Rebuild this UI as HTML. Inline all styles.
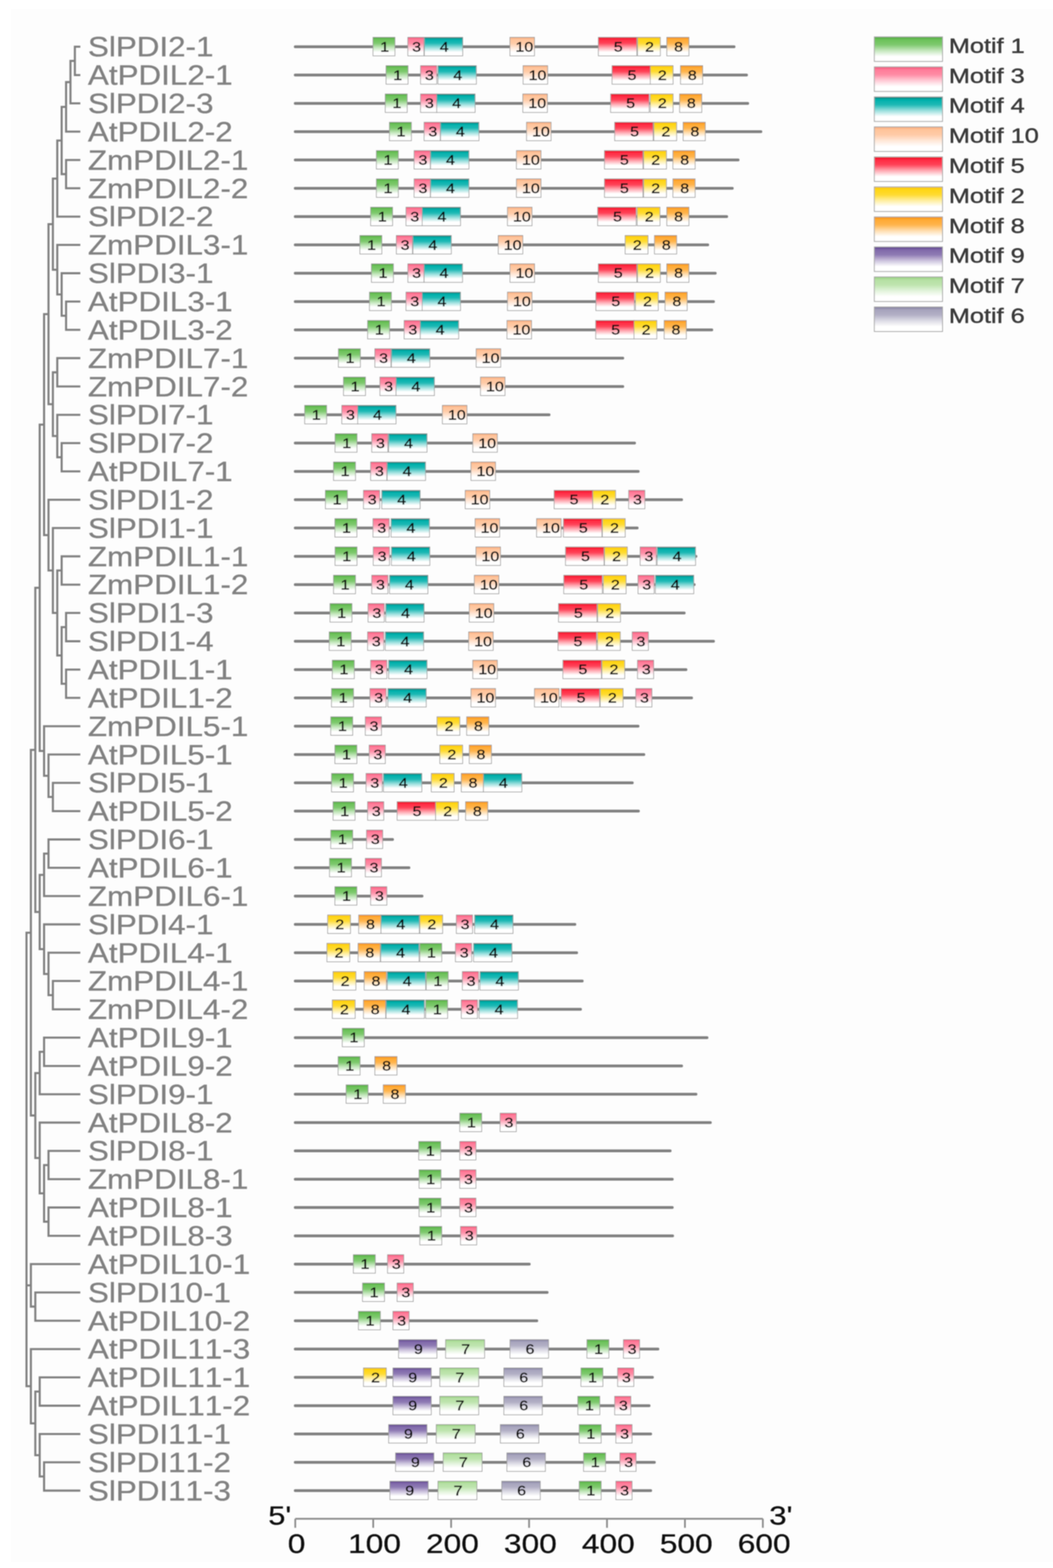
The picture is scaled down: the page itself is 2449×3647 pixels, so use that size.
<!DOCTYPE html>
<html><head><meta charset="utf-8"><title>Motif structure</title>
<style>
html,body{margin:0;padding:0;background:#fefefe;}
svg{display:block;}
text{font-kerning:none;}
.lb{font-family:"Liberation Sans",Arial,sans-serif;fill:#818181;stroke:#818181;stroke-width:0.6px;}
.bx{font-family:"Liberation Sans",Arial,sans-serif;fill:#111;stroke:#111;stroke-width:0.8px;}
.lg{font-family:"Liberation Sans",Arial,sans-serif;fill:#3a3a3a;stroke:#3a3a3a;stroke-width:0.9px;}
.ax{font-family:"Liberation Sans",Arial,sans-serif;fill:#0a0a0a;stroke:#0a0a0a;stroke-width:0.5px;}
</style></head><body>
<svg width="2449" height="3647" viewBox="0 0 2449 3647">
<defs>
<filter id="soft" x="-1%" y="-1%" width="102%" height="102%"><feGaussianBlur stdDeviation="0.8"/></filter>
<linearGradient id="g1" x1="0" y1="0" x2="0" y2="1"><stop offset="0" stop-color="#52a83e"/><stop offset="0.12" stop-color="#6cc25a"/><stop offset="0.32" stop-color="#7ec96e"/><stop offset="0.56" stop-color="#c4e7bd"/><stop offset="0.8" stop-color="#ffffff"/><stop offset="1" stop-color="#ffffff"/></linearGradient>
<linearGradient id="g3" x1="0" y1="0" x2="0" y2="1"><stop offset="0" stop-color="#f2557a"/><stop offset="0.12" stop-color="#ff7c99"/><stop offset="0.32" stop-color="#ff8ca5"/><stop offset="0.56" stop-color="#ffcbd6"/><stop offset="0.8" stop-color="#ffffff"/><stop offset="1" stop-color="#ffffff"/></linearGradient>
<linearGradient id="g4" x1="0" y1="0" x2="0" y2="1"><stop offset="0" stop-color="#007c77"/><stop offset="0.12" stop-color="#00b0ab"/><stop offset="0.32" stop-color="#1fb9b5"/><stop offset="0.56" stop-color="#99dfdd"/><stop offset="0.8" stop-color="#ffffff"/><stop offset="1" stop-color="#ffffff"/></linearGradient>
<linearGradient id="g10" x1="0" y1="0" x2="0" y2="1"><stop offset="0" stop-color="#f8aa7a"/><stop offset="0.12" stop-color="#ffc49b"/><stop offset="0.32" stop-color="#ffcba7"/><stop offset="0.56" stop-color="#ffe7d7"/><stop offset="0.8" stop-color="#ffffff"/><stop offset="1" stop-color="#ffffff"/></linearGradient>
<linearGradient id="g5" x1="0" y1="0" x2="0" y2="1"><stop offset="0" stop-color="#e5081f"/><stop offset="0.12" stop-color="#ff2a42"/><stop offset="0.32" stop-color="#ff4459"/><stop offset="0.56" stop-color="#ffaab3"/><stop offset="0.8" stop-color="#ffffff"/><stop offset="1" stop-color="#ffffff"/></linearGradient>
<linearGradient id="g2" x1="0" y1="0" x2="0" y2="1"><stop offset="0" stop-color="#f6c200"/><stop offset="0.12" stop-color="#ffd616"/><stop offset="0.32" stop-color="#ffdb32"/><stop offset="0.56" stop-color="#ffefa2"/><stop offset="0.8" stop-color="#ffffff"/><stop offset="1" stop-color="#ffffff"/></linearGradient>
<linearGradient id="g8" x1="0" y1="0" x2="0" y2="1"><stop offset="0" stop-color="#f39010"/><stop offset="0.12" stop-color="#ffaa34"/><stop offset="0.32" stop-color="#ffb44c"/><stop offset="0.56" stop-color="#ffddae"/><stop offset="0.8" stop-color="#ffffff"/><stop offset="1" stop-color="#ffffff"/></linearGradient>
<linearGradient id="g9" x1="0" y1="0" x2="0" y2="1"><stop offset="0" stop-color="#5c4189"/><stop offset="0.12" stop-color="#8069aa"/><stop offset="0.32" stop-color="#8f7bb4"/><stop offset="0.56" stop-color="#ccc3dd"/><stop offset="0.8" stop-color="#ffffff"/><stop offset="1" stop-color="#ffffff"/></linearGradient>
<linearGradient id="g7" x1="0" y1="0" x2="0" y2="1"><stop offset="0" stop-color="#95cf7c"/><stop offset="0.12" stop-color="#b5e0a3"/><stop offset="0.32" stop-color="#bee4ae"/><stop offset="0.56" stop-color="#e1f3da"/><stop offset="0.8" stop-color="#ffffff"/><stop offset="1" stop-color="#ffffff"/></linearGradient>
<linearGradient id="g6" x1="0" y1="0" x2="0" y2="1"><stop offset="0" stop-color="#827e9e"/><stop offset="0.12" stop-color="#a7a4bd"/><stop offset="0.32" stop-color="#b2afc5"/><stop offset="0.56" stop-color="#dcdbe5"/><stop offset="0.8" stop-color="#ffffff"/><stop offset="1" stop-color="#ffffff"/></linearGradient>
</defs>
<rect x="0" y="0" width="2449" height="3647" fill="#ffffff"/>
<rect x="26" y="21" width="2423" height="3612" fill="#fdfdfd"/>
<g filter="url(#soft)">
<path d="M174.1 108.7L184.4 108.7M174.1 174.6L184.4 174.6M174.1 108.7L174.1 174.6M163.9 141.6L174.1 141.6M163.9 240.4L184.4 240.4M163.9 141.6L163.9 240.4M153.7 191.0L163.9 191.0M153.7 306.2L184.4 306.2M153.7 191.0L153.7 306.2M143.4 248.6L153.7 248.6M153.7 372.1L184.4 372.1M153.7 437.9L184.4 437.9M153.7 372.1L153.7 437.9M143.4 405.0L153.7 405.0M143.4 248.6L143.4 405.0M133.2 326.8L143.4 326.8M133.2 503.8L184.4 503.8M133.2 326.8L133.2 503.8M123.0 415.3L133.2 415.3M133.2 569.6L184.4 569.6M143.4 635.5L184.4 635.5M153.7 701.4L184.4 701.4M153.7 767.2L184.4 767.2M153.7 701.4L153.7 767.2M143.4 734.3L153.7 734.3M143.4 635.5L143.4 734.3M133.2 684.9L143.4 684.9M133.2 569.6L133.2 684.9M123.0 627.3L133.2 627.3M123.0 415.3L123.0 627.3M112.8 521.3L123.0 521.3M133.2 833.0L184.4 833.0M133.2 898.9L184.4 898.9M133.2 833.0L133.2 898.9M123.0 866.0L133.2 866.0M133.2 964.8L184.4 964.8M143.4 1030.6L184.4 1030.6M143.4 1096.4L184.4 1096.4M143.4 1030.6L143.4 1096.4M133.2 1063.5L143.4 1063.5M133.2 964.8L133.2 1063.5M123.0 1014.1L133.2 1014.1M123.0 866.0L123.0 1014.1M112.8 940.1L123.0 940.1M112.8 521.3L112.8 940.1M102.5 730.7L112.8 730.7M112.8 1162.3L184.4 1162.3M123.0 1228.1L184.4 1228.1M143.4 1294.0L184.4 1294.0M143.4 1359.8L184.4 1359.8M143.4 1294.0L143.4 1359.8M133.2 1326.9L143.4 1326.9M153.7 1425.7L184.4 1425.7M153.7 1491.5L184.4 1491.5M153.7 1425.7L153.7 1491.5M143.4 1458.6L153.7 1458.6M153.7 1557.4L184.4 1557.4M153.7 1623.2L184.4 1623.2M153.7 1557.4L153.7 1623.2M143.4 1590.3L153.7 1590.3M143.4 1458.6L143.4 1590.3M133.2 1524.5L143.4 1524.5M133.2 1326.9L133.2 1524.5M123.0 1425.7L133.2 1425.7M123.0 1228.1L123.0 1425.7M112.8 1326.9L123.0 1326.9M112.8 1162.3L112.8 1326.9M102.5 1244.6L112.8 1244.6M102.5 730.7L102.5 1244.6M92.3 987.6L102.5 987.6M102.5 1689.1L184.4 1689.1M112.8 1754.9L184.4 1754.9M123.0 1820.8L184.4 1820.8M123.0 1886.6L184.4 1886.6M123.0 1820.8L123.0 1886.6M112.8 1853.7L123.0 1853.7M112.8 1754.9L112.8 1853.7M102.5 1804.3L112.8 1804.3M102.5 1689.1L102.5 1804.3M92.3 1746.7L102.5 1746.7M92.3 987.6L92.3 1746.7M82.1 1367.2L92.3 1367.2M112.8 1952.5L184.4 1952.5M112.8 2018.3L184.4 2018.3M112.8 1952.5L112.8 2018.3M102.5 1985.4L112.8 1985.4M102.5 2084.2L184.4 2084.2M102.5 1985.4L102.5 2084.2M92.3 2034.8L102.5 2034.8M102.5 2150.0L184.4 2150.0M112.8 2215.9L184.4 2215.9M123.0 2281.7L184.4 2281.7M123.0 2347.6L184.4 2347.6M123.0 2281.7L123.0 2347.6M112.8 2314.7L123.0 2314.7M112.8 2215.9L112.8 2314.7M102.5 2265.3L112.8 2265.3M102.5 2150.0L102.5 2265.3M92.3 2207.7L102.5 2207.7M92.3 2034.8L92.3 2207.7M82.1 2121.2L92.3 2121.2M82.1 1367.2L82.1 2121.2M71.8 1744.2L82.1 1744.2M102.5 2413.4L184.4 2413.4M102.5 2479.3L184.4 2479.3M102.5 2413.4L102.5 2479.3M92.3 2446.4L102.5 2446.4M92.3 2545.1L184.4 2545.1M92.3 2446.4L92.3 2545.1M82.1 2495.8L92.3 2495.8M92.3 2611.0L184.4 2611.0M112.8 2676.8L184.4 2676.8M112.8 2742.7L184.4 2742.7M112.8 2676.8L112.8 2742.7M102.5 2709.8L112.8 2709.8M112.8 2808.5L184.4 2808.5M112.8 2874.4L184.4 2874.4M112.8 2808.5L112.8 2874.4M102.5 2841.5L112.8 2841.5M102.5 2709.8L102.5 2841.5M92.3 2775.6L102.5 2775.6M92.3 2611.0L92.3 2775.6M82.1 2693.3L92.3 2693.3M82.1 2495.8L82.1 2693.3M71.8 2594.5L82.1 2594.5M71.8 1744.2L71.8 2594.5M61.6 2169.4L71.8 2169.4M71.8 2940.2L184.4 2940.2M82.1 3006.1L184.4 3006.1M82.1 3071.9L184.4 3071.9M82.1 3006.1L82.1 3071.9M71.8 3039.0L82.1 3039.0M71.8 2940.2L71.8 3039.0M61.6 2989.6L71.8 2989.6M71.8 3137.8L184.4 3137.8M92.3 3203.6L184.4 3203.6M92.3 3269.5L184.4 3269.5M92.3 3203.6L92.3 3269.5M82.1 3236.6L92.3 3236.6M92.3 3335.3L184.4 3335.3M102.5 3401.2L184.4 3401.2M102.5 3467.0L184.4 3467.0M102.5 3401.2L102.5 3467.0M92.3 3434.1L102.5 3434.1M92.3 3335.3L92.3 3434.1M82.1 3384.7L92.3 3384.7M82.1 3236.6L82.1 3384.7M71.8 3310.7L82.1 3310.7M71.8 3137.8L71.8 3310.7M61.6 3224.2L71.8 3224.2M61.6 2169.4L61.6 3224.2" stroke="#808080" stroke-width="4.8" stroke-linecap="square" fill="none"/>
<text class="lb" font-size="64.6" transform="translate(204.5,131.3) scale(1.13,1)">SlPDI2-1</text>
<text class="lb" font-size="64.6" transform="translate(204.5,197.2) scale(1.13,1)">AtPDIL2-1</text>
<text class="lb" font-size="64.6" transform="translate(204.5,263.0) scale(1.13,1)">SlPDI2-3</text>
<text class="lb" font-size="64.6" transform="translate(204.5,328.9) scale(1.13,1)">AtPDIL2-2</text>
<text class="lb" font-size="64.6" transform="translate(204.5,394.7) scale(1.13,1)">ZmPDIL2-1</text>
<text class="lb" font-size="64.6" transform="translate(204.5,460.6) scale(1.13,1)">ZmPDIL2-2</text>
<text class="lb" font-size="64.6" transform="translate(204.5,526.4) scale(1.13,1)">SlPDI2-2</text>
<text class="lb" font-size="64.6" transform="translate(204.5,592.2) scale(1.13,1)">ZmPDIL3-1</text>
<text class="lb" font-size="64.6" transform="translate(204.5,658.1) scale(1.13,1)">SlPDI3-1</text>
<text class="lb" font-size="64.6" transform="translate(204.5,724.0) scale(1.13,1)">AtPDIL3-1</text>
<text class="lb" font-size="64.6" transform="translate(204.5,789.8) scale(1.13,1)">AtPDIL3-2</text>
<text class="lb" font-size="64.6" transform="translate(204.5,855.6) scale(1.13,1)">ZmPDIL7-1</text>
<text class="lb" font-size="64.6" transform="translate(204.5,921.5) scale(1.13,1)">ZmPDIL7-2</text>
<text class="lb" font-size="64.6" transform="translate(204.5,987.4) scale(1.13,1)">SlPDI7-1</text>
<text class="lb" font-size="64.6" transform="translate(204.5,1053.2) scale(1.13,1)">SlPDI7-2</text>
<text class="lb" font-size="64.6" transform="translate(204.5,1119.0) scale(1.13,1)">AtPDIL7-1</text>
<text class="lb" font-size="64.6" transform="translate(204.5,1184.9) scale(1.13,1)">SlPDI1-2</text>
<text class="lb" font-size="64.6" transform="translate(204.5,1250.7) scale(1.13,1)">SlPDI1-1</text>
<text class="lb" font-size="64.6" transform="translate(204.5,1316.6) scale(1.13,1)">ZmPDIL1-1</text>
<text class="lb" font-size="64.6" transform="translate(204.5,1382.4) scale(1.13,1)">ZmPDIL1-2</text>
<text class="lb" font-size="64.6" transform="translate(204.5,1448.3) scale(1.13,1)">SlPDI1-3</text>
<text class="lb" font-size="64.6" transform="translate(204.5,1514.1) scale(1.13,1)">SlPDI1-4</text>
<text class="lb" font-size="64.6" transform="translate(204.5,1580.0) scale(1.13,1)">AtPDIL1-1</text>
<text class="lb" font-size="64.6" transform="translate(204.5,1645.8) scale(1.13,1)">AtPDIL1-2</text>
<text class="lb" font-size="64.6" transform="translate(204.5,1711.7) scale(1.13,1)">ZmPDIL5-1</text>
<text class="lb" font-size="64.6" transform="translate(204.5,1777.5) scale(1.13,1)">AtPDIL5-1</text>
<text class="lb" font-size="64.6" transform="translate(204.5,1843.4) scale(1.13,1)">SlPDI5-1</text>
<text class="lb" font-size="64.6" transform="translate(204.5,1909.2) scale(1.13,1)">AtPDIL5-2</text>
<text class="lb" font-size="64.6" transform="translate(204.5,1975.1) scale(1.13,1)">SlPDI6-1</text>
<text class="lb" font-size="64.6" transform="translate(204.5,2040.9) scale(1.13,1)">AtPDIL6-1</text>
<text class="lb" font-size="64.6" transform="translate(204.5,2106.8) scale(1.13,1)">ZmPDIL6-1</text>
<text class="lb" font-size="64.6" transform="translate(204.5,2172.6) scale(1.13,1)">SlPDI4-1</text>
<text class="lb" font-size="64.6" transform="translate(204.5,2238.5) scale(1.13,1)">AtPDIL4-1</text>
<text class="lb" font-size="64.6" transform="translate(204.5,2304.3) scale(1.13,1)">ZmPDIL4-1</text>
<text class="lb" font-size="64.6" transform="translate(204.5,2370.2) scale(1.13,1)">ZmPDIL4-2</text>
<text class="lb" font-size="64.6" transform="translate(204.5,2436.0) scale(1.13,1)">AtPDIL9-1</text>
<text class="lb" font-size="64.6" transform="translate(204.5,2501.9) scale(1.13,1)">AtPDIL9-2</text>
<text class="lb" font-size="64.6" transform="translate(204.5,2567.7) scale(1.13,1)">SlPDI9-1</text>
<text class="lb" font-size="64.6" transform="translate(204.5,2633.6) scale(1.13,1)">AtPDIL8-2</text>
<text class="lb" font-size="64.6" transform="translate(204.5,2699.4) scale(1.13,1)">SlPDI8-1</text>
<text class="lb" font-size="64.6" transform="translate(204.5,2765.3) scale(1.13,1)">ZmPDIL8-1</text>
<text class="lb" font-size="64.6" transform="translate(204.5,2831.1) scale(1.13,1)">AtPDIL8-1</text>
<text class="lb" font-size="64.6" transform="translate(204.5,2897.0) scale(1.13,1)">AtPDIL8-3</text>
<text class="lb" font-size="64.6" transform="translate(204.5,2962.8) scale(1.13,1)">AtPDIL10-1</text>
<text class="lb" font-size="64.6" transform="translate(204.5,3028.7) scale(1.13,1)">SlPDI10-1</text>
<text class="lb" font-size="64.6" transform="translate(204.5,3094.5) scale(1.13,1)">AtPDIL10-2</text>
<text class="lb" font-size="64.6" transform="translate(204.5,3160.4) scale(1.13,1)">AtPDIL11-3</text>
<text class="lb" font-size="64.6" transform="translate(204.5,3226.2) scale(1.13,1)">AtPDIL11-1</text>
<text class="lb" font-size="64.6" transform="translate(204.5,3292.1) scale(1.13,1)">AtPDIL11-2</text>
<text class="lb" font-size="64.6" transform="translate(204.5,3357.9) scale(1.13,1)">SlPDI11-1</text>
<text class="lb" font-size="64.6" transform="translate(204.5,3423.8) scale(1.13,1)">SlPDI11-2</text>
<text class="lb" font-size="64.6" transform="translate(204.5,3489.6) scale(1.13,1)">SlPDI11-3</text>
<path d="M686.7 108.7H1707.2M686.7 174.6H1736.2M686.7 240.4H1739.0M686.7 306.2H1769.6M686.7 372.1H1716.6M686.7 437.9H1703.1M686.7 503.8H1690.1M686.7 569.6H1646.0M686.7 635.5H1663.5M686.7 701.4H1659.4M686.7 767.2H1655.4M686.7 833.0H1448.4M686.7 898.9H1448.4M686.7 964.8H1277.0M686.7 1030.6H1475.8M686.7 1096.4H1484.3M686.7 1162.3H1585.2M686.7 1228.1H1481.9M686.7 1294.0H1618.6M686.7 1359.8H1614.5M686.7 1425.7H1591.3M686.7 1491.5H1659.4M686.7 1557.4H1595.4M686.7 1623.2H1608.4M686.7 1689.1H1483.9M686.7 1754.9H1497.4M686.7 1820.8H1470.5M686.7 1886.6H1484.8M686.7 1952.5H912.9M686.7 2018.3H951.1M686.7 2084.2H981.5M686.7 2150.0H1337.0M686.7 2215.9H1341.1M686.7 2281.7H1354.1M686.7 2347.6H1350.1M686.7 2413.4H1644.3M686.7 2479.3H1585.2M686.7 2545.1H1618.6M686.7 2611.0H1652.1M686.7 2676.8H1558.6M686.7 2742.7H1563.5M686.7 2808.5H1563.5M686.7 2874.4H1564.3M686.7 2940.2H1230.9M686.7 3006.1H1272.5M686.7 3071.9H1248.4M686.7 3137.8H1530.1M686.7 3203.6H1517.4M686.7 3269.5H1509.6M686.7 3335.3H1513.3M686.7 3401.2H1521.9M686.7 3467.0H1513.3" stroke="#808080" stroke-width="6.5" stroke-linecap="round" fill="none"/>
<rect x="867.5" y="86.9" width="51" height="42.9" fill="url(#g1)" stroke="#9c9c9c" stroke-width="1.6"/><text class="bx" font-size="31" text-anchor="middle" transform="translate(894.5,119.7) scale(1.2,1)">1</text>
<rect x="948.5" y="86.9" width="37.5" height="42.9" fill="url(#g3)" stroke="#9c9c9c" stroke-width="1.6"/><text class="bx" font-size="31" text-anchor="middle" transform="translate(968.8,119.7) scale(1.2,1)">3</text>
<rect x="987.0" y="86.9" width="89.2" height="42.9" fill="url(#g4)" stroke="#9c9c9c" stroke-width="1.6"/><text class="bx" font-size="31" text-anchor="middle" transform="translate(1033.1,119.7) scale(1.2,1)">4</text>
<rect x="1186.0" y="86.9" width="57" height="42.9" fill="url(#g10)" stroke="#9c9c9c" stroke-width="1.6"/><text class="bx" font-size="31" text-anchor="middle" transform="translate(1219.5,119.7) scale(1.2,1)">10</text>
<rect x="1391.6" y="86.9" width="89.5" height="42.9" fill="url(#g5)" stroke="#9c9c9c" stroke-width="1.6"/><text class="bx" font-size="31" text-anchor="middle" transform="translate(1437.8,119.7) scale(1.2,1)">5</text>
<rect x="1482.7" y="86.9" width="53" height="42.9" fill="url(#g2)" stroke="#9c9c9c" stroke-width="1.6"/><text class="bx" font-size="31" text-anchor="middle" transform="translate(1510.7,119.7) scale(1.2,1)">2</text>
<rect x="1550.8" y="86.9" width="51.5" height="42.9" fill="url(#g8)" stroke="#9c9c9c" stroke-width="1.6"/><text class="bx" font-size="31" text-anchor="middle" transform="translate(1578.0,119.7) scale(1.2,1)">8</text>
<rect x="897.9" y="152.8" width="51" height="42.9" fill="url(#g1)" stroke="#9c9c9c" stroke-width="1.6"/><text class="bx" font-size="31" text-anchor="middle" transform="translate(924.9,185.5) scale(1.2,1)">1</text>
<rect x="978.2" y="152.8" width="37.5" height="42.9" fill="url(#g3)" stroke="#9c9c9c" stroke-width="1.6"/><text class="bx" font-size="31" text-anchor="middle" transform="translate(998.5,185.5) scale(1.2,1)">3</text>
<rect x="1018.6" y="152.8" width="89.2" height="42.9" fill="url(#g4)" stroke="#9c9c9c" stroke-width="1.6"/><text class="bx" font-size="31" text-anchor="middle" transform="translate(1064.7,185.5) scale(1.2,1)">4</text>
<rect x="1216.6" y="152.8" width="57" height="42.9" fill="url(#g10)" stroke="#9c9c9c" stroke-width="1.6"/><text class="bx" font-size="31" text-anchor="middle" transform="translate(1250.1,185.5) scale(1.2,1)">10</text>
<rect x="1423.5" y="152.8" width="89.5" height="42.9" fill="url(#g5)" stroke="#9c9c9c" stroke-width="1.6"/><text class="bx" font-size="31" text-anchor="middle" transform="translate(1469.8,185.5) scale(1.2,1)">5</text>
<rect x="1512.4" y="152.8" width="53" height="42.9" fill="url(#g2)" stroke="#9c9c9c" stroke-width="1.6"/><text class="bx" font-size="31" text-anchor="middle" transform="translate(1540.4,185.5) scale(1.2,1)">2</text>
<rect x="1582.7" y="152.8" width="51.5" height="42.9" fill="url(#g8)" stroke="#9c9c9c" stroke-width="1.6"/><text class="bx" font-size="31" text-anchor="middle" transform="translate(1610.0,185.5) scale(1.2,1)">8</text>
<rect x="896.0" y="218.6" width="51" height="42.9" fill="url(#g1)" stroke="#9c9c9c" stroke-width="1.6"/><text class="bx" font-size="31" text-anchor="middle" transform="translate(923.0,251.3) scale(1.2,1)">1</text>
<rect x="978.2" y="218.6" width="37.5" height="42.9" fill="url(#g3)" stroke="#9c9c9c" stroke-width="1.6"/><text class="bx" font-size="31" text-anchor="middle" transform="translate(998.5,251.3) scale(1.2,1)">3</text>
<rect x="1015.7" y="218.6" width="89.2" height="42.9" fill="url(#g4)" stroke="#9c9c9c" stroke-width="1.6"/><text class="bx" font-size="31" text-anchor="middle" transform="translate(1061.8,251.3) scale(1.2,1)">4</text>
<rect x="1216.0" y="218.6" width="57" height="42.9" fill="url(#g10)" stroke="#9c9c9c" stroke-width="1.6"/><text class="bx" font-size="31" text-anchor="middle" transform="translate(1249.5,251.3) scale(1.2,1)">10</text>
<rect x="1420.2" y="218.6" width="89.5" height="42.9" fill="url(#g5)" stroke="#9c9c9c" stroke-width="1.6"/><text class="bx" font-size="31" text-anchor="middle" transform="translate(1466.5,251.3) scale(1.2,1)">5</text>
<rect x="1512.4" y="218.6" width="53" height="42.9" fill="url(#g2)" stroke="#9c9c9c" stroke-width="1.6"/><text class="bx" font-size="31" text-anchor="middle" transform="translate(1540.4,251.3) scale(1.2,1)">2</text>
<rect x="1580.6" y="218.6" width="51.5" height="42.9" fill="url(#g8)" stroke="#9c9c9c" stroke-width="1.6"/><text class="bx" font-size="31" text-anchor="middle" transform="translate(1607.8,251.3) scale(1.2,1)">8</text>
<rect x="905.7" y="284.4" width="51" height="42.9" fill="url(#g1)" stroke="#9c9c9c" stroke-width="1.6"/><text class="bx" font-size="31" text-anchor="middle" transform="translate(932.7,317.2) scale(1.2,1)">1</text>
<rect x="986.4" y="284.4" width="37.5" height="42.9" fill="url(#g3)" stroke="#9c9c9c" stroke-width="1.6"/><text class="bx" font-size="31" text-anchor="middle" transform="translate(1006.6,317.2) scale(1.2,1)">3</text>
<rect x="1024.6" y="284.4" width="89.2" height="42.9" fill="url(#g4)" stroke="#9c9c9c" stroke-width="1.6"/><text class="bx" font-size="31" text-anchor="middle" transform="translate(1070.7,317.2) scale(1.2,1)">4</text>
<rect x="1224.6" y="284.4" width="57" height="42.9" fill="url(#g10)" stroke="#9c9c9c" stroke-width="1.6"/><text class="bx" font-size="31" text-anchor="middle" transform="translate(1258.1,317.2) scale(1.2,1)">10</text>
<rect x="1429.6" y="284.4" width="89.5" height="42.9" fill="url(#g5)" stroke="#9c9c9c" stroke-width="1.6"/><text class="bx" font-size="31" text-anchor="middle" transform="translate(1475.8,317.2) scale(1.2,1)">5</text>
<rect x="1520.6" y="284.4" width="53" height="42.9" fill="url(#g2)" stroke="#9c9c9c" stroke-width="1.6"/><text class="bx" font-size="31" text-anchor="middle" transform="translate(1548.6,317.2) scale(1.2,1)">2</text>
<rect x="1588.8" y="284.4" width="51.5" height="42.9" fill="url(#g8)" stroke="#9c9c9c" stroke-width="1.6"/><text class="bx" font-size="31" text-anchor="middle" transform="translate(1616.0,317.2) scale(1.2,1)">8</text>
<rect x="875.4" y="350.3" width="51" height="42.9" fill="url(#g1)" stroke="#9c9c9c" stroke-width="1.6"/><text class="bx" font-size="31" text-anchor="middle" transform="translate(902.4,383.0) scale(1.2,1)">1</text>
<rect x="963.2" y="350.3" width="37.5" height="42.9" fill="url(#g3)" stroke="#9c9c9c" stroke-width="1.6"/><text class="bx" font-size="31" text-anchor="middle" transform="translate(983.5,383.0) scale(1.2,1)">3</text>
<rect x="1001.4" y="350.3" width="89.2" height="42.9" fill="url(#g4)" stroke="#9c9c9c" stroke-width="1.6"/><text class="bx" font-size="31" text-anchor="middle" transform="translate(1047.5,383.0) scale(1.2,1)">4</text>
<rect x="1201.2" y="350.3" width="57" height="42.9" fill="url(#g10)" stroke="#9c9c9c" stroke-width="1.6"/><text class="bx" font-size="31" text-anchor="middle" transform="translate(1234.7,383.0) scale(1.2,1)">10</text>
<rect x="1405.9" y="350.3" width="89.5" height="42.9" fill="url(#g5)" stroke="#9c9c9c" stroke-width="1.6"/><text class="bx" font-size="31" text-anchor="middle" transform="translate(1452.2,383.0) scale(1.2,1)">5</text>
<rect x="1496.9" y="350.3" width="53" height="42.9" fill="url(#g2)" stroke="#9c9c9c" stroke-width="1.6"/><text class="bx" font-size="31" text-anchor="middle" transform="translate(1524.9,383.0) scale(1.2,1)">2</text>
<rect x="1565.1" y="350.3" width="51.5" height="42.9" fill="url(#g8)" stroke="#9c9c9c" stroke-width="1.6"/><text class="bx" font-size="31" text-anchor="middle" transform="translate(1592.3,383.0) scale(1.2,1)">8</text>
<rect x="875.4" y="416.1" width="51" height="42.9" fill="url(#g1)" stroke="#9c9c9c" stroke-width="1.6"/><text class="bx" font-size="31" text-anchor="middle" transform="translate(902.4,448.9) scale(1.2,1)">1</text>
<rect x="963.2" y="416.1" width="37.5" height="42.9" fill="url(#g3)" stroke="#9c9c9c" stroke-width="1.6"/><text class="bx" font-size="31" text-anchor="middle" transform="translate(983.5,448.9) scale(1.2,1)">3</text>
<rect x="1001.4" y="416.1" width="89.2" height="42.9" fill="url(#g4)" stroke="#9c9c9c" stroke-width="1.6"/><text class="bx" font-size="31" text-anchor="middle" transform="translate(1047.5,448.9) scale(1.2,1)">4</text>
<rect x="1201.2" y="416.1" width="57" height="42.9" fill="url(#g10)" stroke="#9c9c9c" stroke-width="1.6"/><text class="bx" font-size="31" text-anchor="middle" transform="translate(1234.7,448.9) scale(1.2,1)">10</text>
<rect x="1405.9" y="416.1" width="89.5" height="42.9" fill="url(#g5)" stroke="#9c9c9c" stroke-width="1.6"/><text class="bx" font-size="31" text-anchor="middle" transform="translate(1452.2,448.9) scale(1.2,1)">5</text>
<rect x="1496.9" y="416.1" width="53" height="42.9" fill="url(#g2)" stroke="#9c9c9c" stroke-width="1.6"/><text class="bx" font-size="31" text-anchor="middle" transform="translate(1524.9,448.9) scale(1.2,1)">2</text>
<rect x="1565.1" y="416.1" width="51.5" height="42.9" fill="url(#g8)" stroke="#9c9c9c" stroke-width="1.6"/><text class="bx" font-size="31" text-anchor="middle" transform="translate(1592.3,448.9) scale(1.2,1)">8</text>
<rect x="862.0" y="482.0" width="51" height="42.9" fill="url(#g1)" stroke="#9c9c9c" stroke-width="1.6"/><text class="bx" font-size="31" text-anchor="middle" transform="translate(889.0,514.7) scale(1.2,1)">1</text>
<rect x="944.3" y="482.0" width="37.5" height="42.9" fill="url(#g3)" stroke="#9c9c9c" stroke-width="1.6"/><text class="bx" font-size="31" text-anchor="middle" transform="translate(964.5,514.7) scale(1.2,1)">3</text>
<rect x="981.8" y="482.0" width="89.2" height="42.9" fill="url(#g4)" stroke="#9c9c9c" stroke-width="1.6"/><text class="bx" font-size="31" text-anchor="middle" transform="translate(1027.9,514.7) scale(1.2,1)">4</text>
<rect x="1180.3" y="482.0" width="57" height="42.9" fill="url(#g10)" stroke="#9c9c9c" stroke-width="1.6"/><text class="bx" font-size="31" text-anchor="middle" transform="translate(1213.8,514.7) scale(1.2,1)">10</text>
<rect x="1390.0" y="482.0" width="89.5" height="42.9" fill="url(#g5)" stroke="#9c9c9c" stroke-width="1.6"/><text class="bx" font-size="31" text-anchor="middle" transform="translate(1436.2,514.7) scale(1.2,1)">5</text>
<rect x="1481.8" y="482.0" width="53" height="42.9" fill="url(#g2)" stroke="#9c9c9c" stroke-width="1.6"/><text class="bx" font-size="31" text-anchor="middle" transform="translate(1509.8,514.7) scale(1.2,1)">2</text>
<rect x="1550.8" y="482.0" width="51.5" height="42.9" fill="url(#g8)" stroke="#9c9c9c" stroke-width="1.6"/><text class="bx" font-size="31" text-anchor="middle" transform="translate(1578.0,514.7) scale(1.2,1)">8</text>
<rect x="837.0" y="547.8" width="51" height="42.9" fill="url(#g1)" stroke="#9c9c9c" stroke-width="1.6"/><text class="bx" font-size="31" text-anchor="middle" transform="translate(864.0,580.6) scale(1.2,1)">1</text>
<rect x="921.8" y="547.8" width="37.5" height="42.9" fill="url(#g3)" stroke="#9c9c9c" stroke-width="1.6"/><text class="bx" font-size="31" text-anchor="middle" transform="translate(942.0,580.6) scale(1.2,1)">3</text>
<rect x="960.4" y="547.8" width="89.2" height="42.9" fill="url(#g4)" stroke="#9c9c9c" stroke-width="1.6"/><text class="bx" font-size="31" text-anchor="middle" transform="translate(1006.5,580.6) scale(1.2,1)">4</text>
<rect x="1158.8" y="547.8" width="57" height="42.9" fill="url(#g10)" stroke="#9c9c9c" stroke-width="1.6"/><text class="bx" font-size="31" text-anchor="middle" transform="translate(1192.3,580.6) scale(1.2,1)">10</text>
<rect x="1454.0" y="547.8" width="53" height="42.9" fill="url(#g2)" stroke="#9c9c9c" stroke-width="1.6"/><text class="bx" font-size="31" text-anchor="middle" transform="translate(1482.0,580.6) scale(1.2,1)">2</text>
<rect x="1522.2" y="547.8" width="51.5" height="42.9" fill="url(#g8)" stroke="#9c9c9c" stroke-width="1.6"/><text class="bx" font-size="31" text-anchor="middle" transform="translate(1549.5,580.6) scale(1.2,1)">8</text>
<rect x="863.9" y="613.7" width="51" height="42.9" fill="url(#g1)" stroke="#9c9c9c" stroke-width="1.6"/><text class="bx" font-size="31" text-anchor="middle" transform="translate(890.9,646.4) scale(1.2,1)">1</text>
<rect x="948.6" y="613.7" width="37.5" height="42.9" fill="url(#g3)" stroke="#9c9c9c" stroke-width="1.6"/><text class="bx" font-size="31" text-anchor="middle" transform="translate(968.9,646.4) scale(1.2,1)">3</text>
<rect x="986.4" y="613.7" width="89.2" height="42.9" fill="url(#g4)" stroke="#9c9c9c" stroke-width="1.6"/><text class="bx" font-size="31" text-anchor="middle" transform="translate(1032.5,646.4) scale(1.2,1)">4</text>
<rect x="1186.2" y="613.7" width="57" height="42.9" fill="url(#g10)" stroke="#9c9c9c" stroke-width="1.6"/><text class="bx" font-size="31" text-anchor="middle" transform="translate(1219.7,646.4) scale(1.2,1)">10</text>
<rect x="1391.6" y="613.7" width="89.5" height="42.9" fill="url(#g5)" stroke="#9c9c9c" stroke-width="1.6"/><text class="bx" font-size="31" text-anchor="middle" transform="translate(1437.8,646.4) scale(1.2,1)">5</text>
<rect x="1482.7" y="613.7" width="53" height="42.9" fill="url(#g2)" stroke="#9c9c9c" stroke-width="1.6"/><text class="bx" font-size="31" text-anchor="middle" transform="translate(1510.7,646.4) scale(1.2,1)">2</text>
<rect x="1550.8" y="613.7" width="51.5" height="42.9" fill="url(#g8)" stroke="#9c9c9c" stroke-width="1.6"/><text class="bx" font-size="31" text-anchor="middle" transform="translate(1578.0,646.4) scale(1.2,1)">8</text>
<rect x="859.3" y="679.5" width="51" height="42.9" fill="url(#g1)" stroke="#9c9c9c" stroke-width="1.6"/><text class="bx" font-size="31" text-anchor="middle" transform="translate(886.3,712.3) scale(1.2,1)">1</text>
<rect x="944.3" y="679.5" width="37.5" height="42.9" fill="url(#g3)" stroke="#9c9c9c" stroke-width="1.6"/><text class="bx" font-size="31" text-anchor="middle" transform="translate(964.5,712.3) scale(1.2,1)">3</text>
<rect x="981.8" y="679.5" width="89.2" height="42.9" fill="url(#g4)" stroke="#9c9c9c" stroke-width="1.6"/><text class="bx" font-size="31" text-anchor="middle" transform="translate(1027.9,712.3) scale(1.2,1)">4</text>
<rect x="1180.3" y="679.5" width="57" height="42.9" fill="url(#g10)" stroke="#9c9c9c" stroke-width="1.6"/><text class="bx" font-size="31" text-anchor="middle" transform="translate(1213.8,712.3) scale(1.2,1)">10</text>
<rect x="1385.9" y="679.5" width="89.5" height="42.9" fill="url(#g5)" stroke="#9c9c9c" stroke-width="1.6"/><text class="bx" font-size="31" text-anchor="middle" transform="translate(1432.2,712.3) scale(1.2,1)">5</text>
<rect x="1477.8" y="679.5" width="53" height="42.9" fill="url(#g2)" stroke="#9c9c9c" stroke-width="1.6"/><text class="bx" font-size="31" text-anchor="middle" transform="translate(1505.8,712.3) scale(1.2,1)">2</text>
<rect x="1546.7" y="679.5" width="51.5" height="42.9" fill="url(#g8)" stroke="#9c9c9c" stroke-width="1.6"/><text class="bx" font-size="31" text-anchor="middle" transform="translate(1574.0,712.3) scale(1.2,1)">8</text>
<rect x="855.0" y="745.4" width="51" height="42.9" fill="url(#g1)" stroke="#9c9c9c" stroke-width="1.6"/><text class="bx" font-size="31" text-anchor="middle" transform="translate(882.0,778.1) scale(1.2,1)">1</text>
<rect x="940.0" y="745.4" width="37.5" height="42.9" fill="url(#g3)" stroke="#9c9c9c" stroke-width="1.6"/><text class="bx" font-size="31" text-anchor="middle" transform="translate(960.2,778.1) scale(1.2,1)">3</text>
<rect x="977.5" y="745.4" width="89.2" height="42.9" fill="url(#g4)" stroke="#9c9c9c" stroke-width="1.6"/><text class="bx" font-size="31" text-anchor="middle" transform="translate(1023.6,778.1) scale(1.2,1)">4</text>
<rect x="1179.2" y="745.4" width="57" height="42.9" fill="url(#g10)" stroke="#9c9c9c" stroke-width="1.6"/><text class="bx" font-size="31" text-anchor="middle" transform="translate(1212.7,778.1) scale(1.2,1)">10</text>
<rect x="1385.5" y="745.4" width="89.5" height="42.9" fill="url(#g5)" stroke="#9c9c9c" stroke-width="1.6"/><text class="bx" font-size="31" text-anchor="middle" transform="translate(1431.8,778.1) scale(1.2,1)">5</text>
<rect x="1474.5" y="745.4" width="53" height="42.9" fill="url(#g2)" stroke="#9c9c9c" stroke-width="1.6"/><text class="bx" font-size="31" text-anchor="middle" transform="translate(1502.5,778.1) scale(1.2,1)">2</text>
<rect x="1544.7" y="745.4" width="51.5" height="42.9" fill="url(#g8)" stroke="#9c9c9c" stroke-width="1.6"/><text class="bx" font-size="31" text-anchor="middle" transform="translate(1572.0,778.1) scale(1.2,1)">8</text>
<rect x="787.1" y="811.2" width="51" height="42.9" fill="url(#g1)" stroke="#9c9c9c" stroke-width="1.6"/><text class="bx" font-size="31" text-anchor="middle" transform="translate(814.1,844.0) scale(1.2,1)">1</text>
<rect x="871.8" y="811.2" width="37.5" height="42.9" fill="url(#g3)" stroke="#9c9c9c" stroke-width="1.6"/><text class="bx" font-size="31" text-anchor="middle" transform="translate(892.0,844.0) scale(1.2,1)">3</text>
<rect x="910.4" y="811.2" width="89.2" height="42.9" fill="url(#g4)" stroke="#9c9c9c" stroke-width="1.6"/><text class="bx" font-size="31" text-anchor="middle" transform="translate(956.5,844.0) scale(1.2,1)">4</text>
<rect x="1107.5" y="811.2" width="57" height="42.9" fill="url(#g10)" stroke="#9c9c9c" stroke-width="1.6"/><text class="bx" font-size="31" text-anchor="middle" transform="translate(1141.0,844.0) scale(1.2,1)">10</text>
<rect x="798.9" y="877.1" width="51" height="42.9" fill="url(#g1)" stroke="#9c9c9c" stroke-width="1.6"/><text class="bx" font-size="31" text-anchor="middle" transform="translate(825.9,909.8) scale(1.2,1)">1</text>
<rect x="883.6" y="877.1" width="37.5" height="42.9" fill="url(#g3)" stroke="#9c9c9c" stroke-width="1.6"/><text class="bx" font-size="31" text-anchor="middle" transform="translate(903.9,909.8) scale(1.2,1)">3</text>
<rect x="921.1" y="877.1" width="89.2" height="42.9" fill="url(#g4)" stroke="#9c9c9c" stroke-width="1.6"/><text class="bx" font-size="31" text-anchor="middle" transform="translate(967.2,909.8) scale(1.2,1)">4</text>
<rect x="1117.5" y="877.1" width="57" height="42.9" fill="url(#g10)" stroke="#9c9c9c" stroke-width="1.6"/><text class="bx" font-size="31" text-anchor="middle" transform="translate(1151.0,909.8) scale(1.2,1)">10</text>
<rect x="708.6" y="942.9" width="51" height="42.9" fill="url(#g1)" stroke="#9c9c9c" stroke-width="1.6"/><text class="bx" font-size="31" text-anchor="middle" transform="translate(735.6,975.7) scale(1.2,1)">1</text>
<rect x="795.0" y="942.9" width="37.5" height="42.9" fill="url(#g3)" stroke="#9c9c9c" stroke-width="1.6"/><text class="bx" font-size="31" text-anchor="middle" transform="translate(815.2,975.7) scale(1.2,1)">3</text>
<rect x="831.8" y="942.9" width="89.2" height="42.9" fill="url(#g4)" stroke="#9c9c9c" stroke-width="1.6"/><text class="bx" font-size="31" text-anchor="middle" transform="translate(877.9,975.7) scale(1.2,1)">4</text>
<rect x="1028.9" y="942.9" width="57" height="42.9" fill="url(#g10)" stroke="#9c9c9c" stroke-width="1.6"/><text class="bx" font-size="31" text-anchor="middle" transform="translate(1062.4,975.7) scale(1.2,1)">10</text>
<rect x="779.3" y="1008.8" width="51" height="42.9" fill="url(#g1)" stroke="#9c9c9c" stroke-width="1.6"/><text class="bx" font-size="31" text-anchor="middle" transform="translate(806.3,1041.5) scale(1.2,1)">1</text>
<rect x="864.6" y="1008.8" width="37.5" height="42.9" fill="url(#g3)" stroke="#9c9c9c" stroke-width="1.6"/><text class="bx" font-size="31" text-anchor="middle" transform="translate(884.9,1041.5) scale(1.2,1)">3</text>
<rect x="903.9" y="1008.8" width="89.2" height="42.9" fill="url(#g4)" stroke="#9c9c9c" stroke-width="1.6"/><text class="bx" font-size="31" text-anchor="middle" transform="translate(950.0,1041.5) scale(1.2,1)">4</text>
<rect x="1099.6" y="1008.8" width="57" height="42.9" fill="url(#g10)" stroke="#9c9c9c" stroke-width="1.6"/><text class="bx" font-size="31" text-anchor="middle" transform="translate(1133.1,1041.5) scale(1.2,1)">10</text>
<rect x="775.7" y="1074.6" width="51" height="42.9" fill="url(#g1)" stroke="#9c9c9c" stroke-width="1.6"/><text class="bx" font-size="31" text-anchor="middle" transform="translate(802.7,1107.4) scale(1.2,1)">1</text>
<rect x="862.1" y="1074.6" width="37.5" height="42.9" fill="url(#g3)" stroke="#9c9c9c" stroke-width="1.6"/><text class="bx" font-size="31" text-anchor="middle" transform="translate(882.4,1107.4) scale(1.2,1)">3</text>
<rect x="900.4" y="1074.6" width="89.2" height="42.9" fill="url(#g4)" stroke="#9c9c9c" stroke-width="1.6"/><text class="bx" font-size="31" text-anchor="middle" transform="translate(946.5,1107.4) scale(1.2,1)">4</text>
<rect x="1095.4" y="1074.6" width="57" height="42.9" fill="url(#g10)" stroke="#9c9c9c" stroke-width="1.6"/><text class="bx" font-size="31" text-anchor="middle" transform="translate(1128.9,1107.4) scale(1.2,1)">10</text>
<rect x="756.8" y="1140.5" width="51" height="42.9" fill="url(#g1)" stroke="#9c9c9c" stroke-width="1.6"/><text class="bx" font-size="31" text-anchor="middle" transform="translate(783.8,1173.2) scale(1.2,1)">1</text>
<rect x="845.4" y="1140.5" width="37.5" height="42.9" fill="url(#g3)" stroke="#9c9c9c" stroke-width="1.6"/><text class="bx" font-size="31" text-anchor="middle" transform="translate(865.6,1173.2) scale(1.2,1)">3</text>
<rect x="887.9" y="1140.5" width="89.2" height="42.9" fill="url(#g4)" stroke="#9c9c9c" stroke-width="1.6"/><text class="bx" font-size="31" text-anchor="middle" transform="translate(934.0,1173.2) scale(1.2,1)">4</text>
<rect x="1082.0" y="1140.5" width="57" height="42.9" fill="url(#g10)" stroke="#9c9c9c" stroke-width="1.6"/><text class="bx" font-size="31" text-anchor="middle" transform="translate(1115.5,1173.2) scale(1.2,1)">10</text>
<rect x="1288.8" y="1140.5" width="89.5" height="42.9" fill="url(#g5)" stroke="#9c9c9c" stroke-width="1.6"/><text class="bx" font-size="31" text-anchor="middle" transform="translate(1335.0,1173.2) scale(1.2,1)">5</text>
<rect x="1378.6" y="1140.5" width="53" height="42.9" fill="url(#g2)" stroke="#9c9c9c" stroke-width="1.6"/><text class="bx" font-size="31" text-anchor="middle" transform="translate(1406.6,1173.2) scale(1.2,1)">2</text>
<rect x="1462.2" y="1140.5" width="37.5" height="42.9" fill="url(#g3)" stroke="#9c9c9c" stroke-width="1.6"/><text class="bx" font-size="31" text-anchor="middle" transform="translate(1482.5,1173.2) scale(1.2,1)">3</text>
<rect x="778.9" y="1206.3" width="51" height="42.9" fill="url(#g1)" stroke="#9c9c9c" stroke-width="1.6"/><text class="bx" font-size="31" text-anchor="middle" transform="translate(805.9,1239.1) scale(1.2,1)">1</text>
<rect x="867.5" y="1206.3" width="37.5" height="42.9" fill="url(#g3)" stroke="#9c9c9c" stroke-width="1.6"/><text class="bx" font-size="31" text-anchor="middle" transform="translate(887.8,1239.1) scale(1.2,1)">3</text>
<rect x="909.6" y="1206.3" width="89.2" height="42.9" fill="url(#g4)" stroke="#9c9c9c" stroke-width="1.6"/><text class="bx" font-size="31" text-anchor="middle" transform="translate(955.7,1239.1) scale(1.2,1)">4</text>
<rect x="1105.0" y="1206.3" width="57" height="42.9" fill="url(#g10)" stroke="#9c9c9c" stroke-width="1.6"/><text class="bx" font-size="31" text-anchor="middle" transform="translate(1138.5,1239.1) scale(1.2,1)">10</text>
<rect x="1248.0" y="1206.3" width="57" height="42.9" fill="url(#g10)" stroke="#9c9c9c" stroke-width="1.6"/><text class="bx" font-size="31" text-anchor="middle" transform="translate(1281.5,1239.1) scale(1.2,1)">10</text>
<rect x="1310.4" y="1206.3" width="89.5" height="42.9" fill="url(#g5)" stroke="#9c9c9c" stroke-width="1.6"/><text class="bx" font-size="31" text-anchor="middle" transform="translate(1356.7,1239.1) scale(1.2,1)">5</text>
<rect x="1401.0" y="1206.3" width="53" height="42.9" fill="url(#g2)" stroke="#9c9c9c" stroke-width="1.6"/><text class="bx" font-size="31" text-anchor="middle" transform="translate(1429.0,1239.1) scale(1.2,1)">2</text>
<rect x="779.3" y="1272.2" width="51" height="42.9" fill="url(#g1)" stroke="#9c9c9c" stroke-width="1.6"/><text class="bx" font-size="31" text-anchor="middle" transform="translate(806.3,1305.0) scale(1.2,1)">1</text>
<rect x="868.2" y="1272.2" width="37.5" height="42.9" fill="url(#g3)" stroke="#9c9c9c" stroke-width="1.6"/><text class="bx" font-size="31" text-anchor="middle" transform="translate(888.5,1305.0) scale(1.2,1)">3</text>
<rect x="910.4" y="1272.2" width="89.2" height="42.9" fill="url(#g4)" stroke="#9c9c9c" stroke-width="1.6"/><text class="bx" font-size="31" text-anchor="middle" transform="translate(956.5,1305.0) scale(1.2,1)">4</text>
<rect x="1107.0" y="1272.2" width="57" height="42.9" fill="url(#g10)" stroke="#9c9c9c" stroke-width="1.6"/><text class="bx" font-size="31" text-anchor="middle" transform="translate(1140.5,1305.0) scale(1.2,1)">10</text>
<rect x="1315.3" y="1272.2" width="89.5" height="42.9" fill="url(#g5)" stroke="#9c9c9c" stroke-width="1.6"/><text class="bx" font-size="31" text-anchor="middle" transform="translate(1361.5,1305.0) scale(1.2,1)">5</text>
<rect x="1405.9" y="1272.2" width="53" height="42.9" fill="url(#g2)" stroke="#9c9c9c" stroke-width="1.6"/><text class="bx" font-size="31" text-anchor="middle" transform="translate(1433.9,1305.0) scale(1.2,1)">2</text>
<rect x="1488.8" y="1272.2" width="37.5" height="42.9" fill="url(#g3)" stroke="#9c9c9c" stroke-width="1.6"/><text class="bx" font-size="31" text-anchor="middle" transform="translate(1509.0,1305.0) scale(1.2,1)">3</text>
<rect x="1528.4" y="1272.2" width="89.2" height="42.9" fill="url(#g4)" stroke="#9c9c9c" stroke-width="1.6"/><text class="bx" font-size="31" text-anchor="middle" transform="translate(1574.5,1305.0) scale(1.2,1)">4</text>
<rect x="775.7" y="1338.0" width="51" height="42.9" fill="url(#g1)" stroke="#9c9c9c" stroke-width="1.6"/><text class="bx" font-size="31" text-anchor="middle" transform="translate(802.7,1370.8) scale(1.2,1)">1</text>
<rect x="864.6" y="1338.0" width="37.5" height="42.9" fill="url(#g3)" stroke="#9c9c9c" stroke-width="1.6"/><text class="bx" font-size="31" text-anchor="middle" transform="translate(884.9,1370.8) scale(1.2,1)">3</text>
<rect x="906.0" y="1338.0" width="89.2" height="42.9" fill="url(#g4)" stroke="#9c9c9c" stroke-width="1.6"/><text class="bx" font-size="31" text-anchor="middle" transform="translate(952.1,1370.8) scale(1.2,1)">4</text>
<rect x="1103.2" y="1338.0" width="57" height="42.9" fill="url(#g10)" stroke="#9c9c9c" stroke-width="1.6"/><text class="bx" font-size="31" text-anchor="middle" transform="translate(1136.7,1370.8) scale(1.2,1)">10</text>
<rect x="1311.2" y="1338.0" width="89.5" height="42.9" fill="url(#g5)" stroke="#9c9c9c" stroke-width="1.6"/><text class="bx" font-size="31" text-anchor="middle" transform="translate(1357.5,1370.8) scale(1.2,1)">5</text>
<rect x="1403.1" y="1338.0" width="53" height="42.9" fill="url(#g2)" stroke="#9c9c9c" stroke-width="1.6"/><text class="bx" font-size="31" text-anchor="middle" transform="translate(1431.1,1370.8) scale(1.2,1)">2</text>
<rect x="1483.9" y="1338.0" width="37.5" height="42.9" fill="url(#g3)" stroke="#9c9c9c" stroke-width="1.6"/><text class="bx" font-size="31" text-anchor="middle" transform="translate(1504.2,1370.8) scale(1.2,1)">3</text>
<rect x="1524.3" y="1338.0" width="89.2" height="42.9" fill="url(#g4)" stroke="#9c9c9c" stroke-width="1.6"/><text class="bx" font-size="31" text-anchor="middle" transform="translate(1570.4,1370.8) scale(1.2,1)">4</text>
<rect x="767.5" y="1403.9" width="51" height="42.9" fill="url(#g1)" stroke="#9c9c9c" stroke-width="1.6"/><text class="bx" font-size="31" text-anchor="middle" transform="translate(794.5,1436.7) scale(1.2,1)">1</text>
<rect x="856.1" y="1403.9" width="37.5" height="42.9" fill="url(#g3)" stroke="#9c9c9c" stroke-width="1.6"/><text class="bx" font-size="31" text-anchor="middle" transform="translate(876.4,1436.7) scale(1.2,1)">3</text>
<rect x="897.1" y="1403.9" width="89.2" height="42.9" fill="url(#g4)" stroke="#9c9c9c" stroke-width="1.6"/><text class="bx" font-size="31" text-anchor="middle" transform="translate(943.2,1436.7) scale(1.2,1)">4</text>
<rect x="1091.4" y="1403.9" width="57" height="42.9" fill="url(#g10)" stroke="#9c9c9c" stroke-width="1.6"/><text class="bx" font-size="31" text-anchor="middle" transform="translate(1124.9,1436.7) scale(1.2,1)">10</text>
<rect x="1299.0" y="1403.9" width="89.5" height="42.9" fill="url(#g5)" stroke="#9c9c9c" stroke-width="1.6"/><text class="bx" font-size="31" text-anchor="middle" transform="translate(1345.2,1436.7) scale(1.2,1)">5</text>
<rect x="1390.0" y="1403.9" width="53" height="42.9" fill="url(#g2)" stroke="#9c9c9c" stroke-width="1.6"/><text class="bx" font-size="31" text-anchor="middle" transform="translate(1418.0,1436.7) scale(1.2,1)">2</text>
<rect x="765.7" y="1469.8" width="51" height="42.9" fill="url(#g1)" stroke="#9c9c9c" stroke-width="1.6"/><text class="bx" font-size="31" text-anchor="middle" transform="translate(792.7,1502.5) scale(1.2,1)">1</text>
<rect x="855.0" y="1469.8" width="37.5" height="42.9" fill="url(#g3)" stroke="#9c9c9c" stroke-width="1.6"/><text class="bx" font-size="31" text-anchor="middle" transform="translate(875.2,1502.5) scale(1.2,1)">3</text>
<rect x="896.1" y="1469.8" width="89.2" height="42.9" fill="url(#g4)" stroke="#9c9c9c" stroke-width="1.6"/><text class="bx" font-size="31" text-anchor="middle" transform="translate(942.2,1502.5) scale(1.2,1)">4</text>
<rect x="1090.0" y="1469.8" width="57" height="42.9" fill="url(#g10)" stroke="#9c9c9c" stroke-width="1.6"/><text class="bx" font-size="31" text-anchor="middle" transform="translate(1123.5,1502.5) scale(1.2,1)">10</text>
<rect x="1297.8" y="1469.8" width="89.5" height="42.9" fill="url(#g5)" stroke="#9c9c9c" stroke-width="1.6"/><text class="bx" font-size="31" text-anchor="middle" transform="translate(1344.0,1502.5) scale(1.2,1)">5</text>
<rect x="1389.6" y="1469.8" width="53" height="42.9" fill="url(#g2)" stroke="#9c9c9c" stroke-width="1.6"/><text class="bx" font-size="31" text-anchor="middle" transform="translate(1417.6,1502.5) scale(1.2,1)">2</text>
<rect x="1470.4" y="1469.8" width="37.5" height="42.9" fill="url(#g3)" stroke="#9c9c9c" stroke-width="1.6"/><text class="bx" font-size="31" text-anchor="middle" transform="translate(1490.7,1502.5) scale(1.2,1)">3</text>
<rect x="772.9" y="1535.6" width="51" height="42.9" fill="url(#g1)" stroke="#9c9c9c" stroke-width="1.6"/><text class="bx" font-size="31" text-anchor="middle" transform="translate(799.9,1568.3) scale(1.2,1)">1</text>
<rect x="862.1" y="1535.6" width="37.5" height="42.9" fill="url(#g3)" stroke="#9c9c9c" stroke-width="1.6"/><text class="bx" font-size="31" text-anchor="middle" transform="translate(882.4,1568.3) scale(1.2,1)">3</text>
<rect x="903.9" y="1535.6" width="89.2" height="42.9" fill="url(#g4)" stroke="#9c9c9c" stroke-width="1.6"/><text class="bx" font-size="31" text-anchor="middle" transform="translate(950.0,1568.3) scale(1.2,1)">4</text>
<rect x="1099.6" y="1535.6" width="57" height="42.9" fill="url(#g10)" stroke="#9c9c9c" stroke-width="1.6"/><text class="bx" font-size="31" text-anchor="middle" transform="translate(1133.1,1568.3) scale(1.2,1)">10</text>
<rect x="1309.2" y="1535.6" width="89.5" height="42.9" fill="url(#g5)" stroke="#9c9c9c" stroke-width="1.6"/><text class="bx" font-size="31" text-anchor="middle" transform="translate(1355.5,1568.3) scale(1.2,1)">5</text>
<rect x="1399.8" y="1535.6" width="53" height="42.9" fill="url(#g2)" stroke="#9c9c9c" stroke-width="1.6"/><text class="bx" font-size="31" text-anchor="middle" transform="translate(1427.8,1568.3) scale(1.2,1)">2</text>
<rect x="1482.7" y="1535.6" width="37.5" height="42.9" fill="url(#g3)" stroke="#9c9c9c" stroke-width="1.6"/><text class="bx" font-size="31" text-anchor="middle" transform="translate(1503.0,1568.3) scale(1.2,1)">3</text>
<rect x="771.1" y="1601.5" width="51" height="42.9" fill="url(#g1)" stroke="#9c9c9c" stroke-width="1.6"/><text class="bx" font-size="31" text-anchor="middle" transform="translate(798.1,1634.2) scale(1.2,1)">1</text>
<rect x="860.4" y="1601.5" width="37.5" height="42.9" fill="url(#g3)" stroke="#9c9c9c" stroke-width="1.6"/><text class="bx" font-size="31" text-anchor="middle" transform="translate(880.6,1634.2) scale(1.2,1)">3</text>
<rect x="902.1" y="1601.5" width="89.2" height="42.9" fill="url(#g4)" stroke="#9c9c9c" stroke-width="1.6"/><text class="bx" font-size="31" text-anchor="middle" transform="translate(948.2,1634.2) scale(1.2,1)">4</text>
<rect x="1095.4" y="1601.5" width="57" height="42.9" fill="url(#g10)" stroke="#9c9c9c" stroke-width="1.6"/><text class="bx" font-size="31" text-anchor="middle" transform="translate(1128.9,1634.2) scale(1.2,1)">10</text>
<rect x="1243.1" y="1601.5" width="57" height="42.9" fill="url(#g10)" stroke="#9c9c9c" stroke-width="1.6"/><text class="bx" font-size="31" text-anchor="middle" transform="translate(1276.6,1634.2) scale(1.2,1)">10</text>
<rect x="1305.1" y="1601.5" width="89.5" height="42.9" fill="url(#g5)" stroke="#9c9c9c" stroke-width="1.6"/><text class="bx" font-size="31" text-anchor="middle" transform="translate(1351.3,1634.2) scale(1.2,1)">5</text>
<rect x="1396.1" y="1601.5" width="53" height="42.9" fill="url(#g2)" stroke="#9c9c9c" stroke-width="1.6"/><text class="bx" font-size="31" text-anchor="middle" transform="translate(1424.1,1634.2) scale(1.2,1)">2</text>
<rect x="1478.6" y="1601.5" width="37.5" height="42.9" fill="url(#g3)" stroke="#9c9c9c" stroke-width="1.6"/><text class="bx" font-size="31" text-anchor="middle" transform="translate(1498.8,1634.2) scale(1.2,1)">3</text>
<rect x="769.3" y="1667.3" width="51" height="42.9" fill="url(#g1)" stroke="#9c9c9c" stroke-width="1.6"/><text class="bx" font-size="31" text-anchor="middle" transform="translate(796.3,1700.0) scale(1.2,1)">1</text>
<rect x="849.6" y="1667.3" width="37.5" height="42.9" fill="url(#g3)" stroke="#9c9c9c" stroke-width="1.6"/><text class="bx" font-size="31" text-anchor="middle" transform="translate(869.9,1700.0) scale(1.2,1)">3</text>
<rect x="1016.4" y="1667.3" width="53" height="42.9" fill="url(#g2)" stroke="#9c9c9c" stroke-width="1.6"/><text class="bx" font-size="31" text-anchor="middle" transform="translate(1044.4,1700.0) scale(1.2,1)">2</text>
<rect x="1085.4" y="1667.3" width="51.5" height="42.9" fill="url(#g8)" stroke="#9c9c9c" stroke-width="1.6"/><text class="bx" font-size="31" text-anchor="middle" transform="translate(1112.7,1700.0) scale(1.2,1)">8</text>
<rect x="778.9" y="1733.1" width="51" height="42.9" fill="url(#g1)" stroke="#9c9c9c" stroke-width="1.6"/><text class="bx" font-size="31" text-anchor="middle" transform="translate(805.9,1765.9) scale(1.2,1)">1</text>
<rect x="858.6" y="1733.1" width="37.5" height="42.9" fill="url(#g3)" stroke="#9c9c9c" stroke-width="1.6"/><text class="bx" font-size="31" text-anchor="middle" transform="translate(878.9,1765.9) scale(1.2,1)">3</text>
<rect x="1022.9" y="1733.1" width="53" height="42.9" fill="url(#g2)" stroke="#9c9c9c" stroke-width="1.6"/><text class="bx" font-size="31" text-anchor="middle" transform="translate(1050.9,1765.9) scale(1.2,1)">2</text>
<rect x="1091.4" y="1733.1" width="51.5" height="42.9" fill="url(#g8)" stroke="#9c9c9c" stroke-width="1.6"/><text class="bx" font-size="31" text-anchor="middle" transform="translate(1118.7,1765.9) scale(1.2,1)">8</text>
<rect x="771.1" y="1799.0" width="51" height="42.9" fill="url(#g1)" stroke="#9c9c9c" stroke-width="1.6"/><text class="bx" font-size="31" text-anchor="middle" transform="translate(798.1,1831.8) scale(1.2,1)">1</text>
<rect x="851.4" y="1799.0" width="37.5" height="42.9" fill="url(#g3)" stroke="#9c9c9c" stroke-width="1.6"/><text class="bx" font-size="31" text-anchor="middle" transform="translate(871.6,1831.8) scale(1.2,1)">3</text>
<rect x="891.8" y="1799.0" width="89.2" height="42.9" fill="url(#g4)" stroke="#9c9c9c" stroke-width="1.6"/><text class="bx" font-size="31" text-anchor="middle" transform="translate(937.9,1831.8) scale(1.2,1)">4</text>
<rect x="1003.2" y="1799.0" width="53" height="42.9" fill="url(#g2)" stroke="#9c9c9c" stroke-width="1.6"/><text class="bx" font-size="31" text-anchor="middle" transform="translate(1031.2,1831.8) scale(1.2,1)">2</text>
<rect x="1072.9" y="1799.0" width="51.5" height="42.9" fill="url(#g8)" stroke="#9c9c9c" stroke-width="1.6"/><text class="bx" font-size="31" text-anchor="middle" transform="translate(1100.2,1831.8) scale(1.2,1)">8</text>
<rect x="1124.4" y="1799.0" width="89.2" height="42.9" fill="url(#g4)" stroke="#9c9c9c" stroke-width="1.6"/><text class="bx" font-size="31" text-anchor="middle" transform="translate(1170.5,1831.8) scale(1.2,1)">4</text>
<rect x="774.6" y="1864.8" width="51" height="42.9" fill="url(#g1)" stroke="#9c9c9c" stroke-width="1.6"/><text class="bx" font-size="31" text-anchor="middle" transform="translate(801.6,1897.6) scale(1.2,1)">1</text>
<rect x="855.0" y="1864.8" width="37.5" height="42.9" fill="url(#g3)" stroke="#9c9c9c" stroke-width="1.6"/><text class="bx" font-size="31" text-anchor="middle" transform="translate(875.2,1897.6) scale(1.2,1)">3</text>
<rect x="923.6" y="1864.8" width="89.5" height="42.9" fill="url(#g5)" stroke="#9c9c9c" stroke-width="1.6"/><text class="bx" font-size="31" text-anchor="middle" transform="translate(969.9,1897.6) scale(1.2,1)">5</text>
<rect x="1013.2" y="1864.8" width="53" height="42.9" fill="url(#g2)" stroke="#9c9c9c" stroke-width="1.6"/><text class="bx" font-size="31" text-anchor="middle" transform="translate(1041.2,1897.6) scale(1.2,1)">2</text>
<rect x="1082.9" y="1864.8" width="51.5" height="42.9" fill="url(#g8)" stroke="#9c9c9c" stroke-width="1.6"/><text class="bx" font-size="31" text-anchor="middle" transform="translate(1110.2,1897.6) scale(1.2,1)">8</text>
<rect x="769.3" y="1930.7" width="51" height="42.9" fill="url(#g1)" stroke="#9c9c9c" stroke-width="1.6"/><text class="bx" font-size="31" text-anchor="middle" transform="translate(796.3,1963.4) scale(1.2,1)">1</text>
<rect x="852.5" y="1930.7" width="37.5" height="42.9" fill="url(#g3)" stroke="#9c9c9c" stroke-width="1.6"/><text class="bx" font-size="31" text-anchor="middle" transform="translate(872.8,1963.4) scale(1.2,1)">3</text>
<rect x="766.4" y="1996.5" width="51" height="42.9" fill="url(#g1)" stroke="#9c9c9c" stroke-width="1.6"/><text class="bx" font-size="31" text-anchor="middle" transform="translate(793.4,2029.3) scale(1.2,1)">1</text>
<rect x="849.6" y="1996.5" width="37.5" height="42.9" fill="url(#g3)" stroke="#9c9c9c" stroke-width="1.6"/><text class="bx" font-size="31" text-anchor="middle" transform="translate(869.9,2029.3) scale(1.2,1)">3</text>
<rect x="778.9" y="2062.4" width="51" height="42.9" fill="url(#g1)" stroke="#9c9c9c" stroke-width="1.6"/><text class="bx" font-size="31" text-anchor="middle" transform="translate(805.9,2095.2) scale(1.2,1)">1</text>
<rect x="862.1" y="2062.4" width="37.5" height="42.9" fill="url(#g3)" stroke="#9c9c9c" stroke-width="1.6"/><text class="bx" font-size="31" text-anchor="middle" transform="translate(882.4,2095.2) scale(1.2,1)">3</text>
<rect x="762.1" y="2128.2" width="53" height="42.9" fill="url(#g2)" stroke="#9c9c9c" stroke-width="1.6"/><text class="bx" font-size="31" text-anchor="middle" transform="translate(790.1,2161.0) scale(1.2,1)">2</text>
<rect x="834.3" y="2128.2" width="51.5" height="42.9" fill="url(#g8)" stroke="#9c9c9c" stroke-width="1.6"/><text class="bx" font-size="31" text-anchor="middle" transform="translate(861.5,2161.0) scale(1.2,1)">8</text>
<rect x="886.1" y="2128.2" width="89.2" height="42.9" fill="url(#g4)" stroke="#9c9c9c" stroke-width="1.6"/><text class="bx" font-size="31" text-anchor="middle" transform="translate(932.2,2161.0) scale(1.2,1)">4</text>
<rect x="976.4" y="2128.2" width="53" height="42.9" fill="url(#g2)" stroke="#9c9c9c" stroke-width="1.6"/><text class="bx" font-size="31" text-anchor="middle" transform="translate(1004.4,2161.0) scale(1.2,1)">2</text>
<rect x="1061.4" y="2128.2" width="37.5" height="42.9" fill="url(#g3)" stroke="#9c9c9c" stroke-width="1.6"/><text class="bx" font-size="31" text-anchor="middle" transform="translate(1081.7,2161.0) scale(1.2,1)">3</text>
<rect x="1103.9" y="2128.2" width="89.2" height="42.9" fill="url(#g4)" stroke="#9c9c9c" stroke-width="1.6"/><text class="bx" font-size="31" text-anchor="middle" transform="translate(1150.0,2161.0) scale(1.2,1)">4</text>
<rect x="760.4" y="2194.1" width="53" height="42.9" fill="url(#g2)" stroke="#9c9c9c" stroke-width="1.6"/><text class="bx" font-size="31" text-anchor="middle" transform="translate(788.4,2226.8) scale(1.2,1)">2</text>
<rect x="832.9" y="2194.1" width="51.5" height="42.9" fill="url(#g8)" stroke="#9c9c9c" stroke-width="1.6"/><text class="bx" font-size="31" text-anchor="middle" transform="translate(860.1,2226.8) scale(1.2,1)">8</text>
<rect x="885.4" y="2194.1" width="89.2" height="42.9" fill="url(#g4)" stroke="#9c9c9c" stroke-width="1.6"/><text class="bx" font-size="31" text-anchor="middle" transform="translate(931.5,2226.8) scale(1.2,1)">4</text>
<rect x="976.4" y="2194.1" width="51" height="42.9" fill="url(#g1)" stroke="#9c9c9c" stroke-width="1.6"/><text class="bx" font-size="31" text-anchor="middle" transform="translate(1003.4,2226.8) scale(1.2,1)">1</text>
<rect x="1059.3" y="2194.1" width="37.5" height="42.9" fill="url(#g3)" stroke="#9c9c9c" stroke-width="1.6"/><text class="bx" font-size="31" text-anchor="middle" transform="translate(1079.5,2226.8) scale(1.2,1)">3</text>
<rect x="1101.4" y="2194.1" width="89.2" height="42.9" fill="url(#g4)" stroke="#9c9c9c" stroke-width="1.6"/><text class="bx" font-size="31" text-anchor="middle" transform="translate(1147.5,2226.8) scale(1.2,1)">4</text>
<rect x="774.6" y="2259.9" width="53" height="42.9" fill="url(#g2)" stroke="#9c9c9c" stroke-width="1.6"/><text class="bx" font-size="31" text-anchor="middle" transform="translate(802.6,2292.7) scale(1.2,1)">2</text>
<rect x="847.1" y="2259.9" width="51.5" height="42.9" fill="url(#g8)" stroke="#9c9c9c" stroke-width="1.6"/><text class="bx" font-size="31" text-anchor="middle" transform="translate(874.4,2292.7) scale(1.2,1)">8</text>
<rect x="900.7" y="2259.9" width="89.2" height="42.9" fill="url(#g4)" stroke="#9c9c9c" stroke-width="1.6"/><text class="bx" font-size="31" text-anchor="middle" transform="translate(946.8,2292.7) scale(1.2,1)">4</text>
<rect x="991.4" y="2259.9" width="51" height="42.9" fill="url(#g1)" stroke="#9c9c9c" stroke-width="1.6"/><text class="bx" font-size="31" text-anchor="middle" transform="translate(1018.4,2292.7) scale(1.2,1)">1</text>
<rect x="1075.4" y="2259.9" width="37.5" height="42.9" fill="url(#g3)" stroke="#9c9c9c" stroke-width="1.6"/><text class="bx" font-size="31" text-anchor="middle" transform="translate(1095.7,2292.7) scale(1.2,1)">3</text>
<rect x="1116.4" y="2259.9" width="89.2" height="42.9" fill="url(#g4)" stroke="#9c9c9c" stroke-width="1.6"/><text class="bx" font-size="31" text-anchor="middle" transform="translate(1162.5,2292.7) scale(1.2,1)">4</text>
<rect x="772.9" y="2325.8" width="53" height="42.9" fill="url(#g2)" stroke="#9c9c9c" stroke-width="1.6"/><text class="bx" font-size="31" text-anchor="middle" transform="translate(800.9,2358.5) scale(1.2,1)">2</text>
<rect x="845.4" y="2325.8" width="51.5" height="42.9" fill="url(#g8)" stroke="#9c9c9c" stroke-width="1.6"/><text class="bx" font-size="31" text-anchor="middle" transform="translate(872.6,2358.5) scale(1.2,1)">8</text>
<rect x="897.9" y="2325.8" width="89.2" height="42.9" fill="url(#g4)" stroke="#9c9c9c" stroke-width="1.6"/><text class="bx" font-size="31" text-anchor="middle" transform="translate(944.0,2358.5) scale(1.2,1)">4</text>
<rect x="990.0" y="2325.8" width="51" height="42.9" fill="url(#g1)" stroke="#9c9c9c" stroke-width="1.6"/><text class="bx" font-size="31" text-anchor="middle" transform="translate(1017.0,2358.5) scale(1.2,1)">1</text>
<rect x="1072.9" y="2325.8" width="37.5" height="42.9" fill="url(#g3)" stroke="#9c9c9c" stroke-width="1.6"/><text class="bx" font-size="31" text-anchor="middle" transform="translate(1093.2,2358.5) scale(1.2,1)">3</text>
<rect x="1114.4" y="2325.8" width="89.2" height="42.9" fill="url(#g4)" stroke="#9c9c9c" stroke-width="1.6"/><text class="bx" font-size="31" text-anchor="middle" transform="translate(1160.5,2358.5) scale(1.2,1)">4</text>
<rect x="796.1" y="2391.7" width="51" height="42.9" fill="url(#g1)" stroke="#9c9c9c" stroke-width="1.6"/><text class="bx" font-size="31" text-anchor="middle" transform="translate(823.1,2424.4) scale(1.2,1)">1</text>
<rect x="786.4" y="2457.5" width="51" height="42.9" fill="url(#g1)" stroke="#9c9c9c" stroke-width="1.6"/><text class="bx" font-size="31" text-anchor="middle" transform="translate(813.4,2490.2) scale(1.2,1)">1</text>
<rect x="871.8" y="2457.5" width="51.5" height="42.9" fill="url(#g8)" stroke="#9c9c9c" stroke-width="1.6"/><text class="bx" font-size="31" text-anchor="middle" transform="translate(899.0,2490.2) scale(1.2,1)">8</text>
<rect x="805.0" y="2523.3" width="51" height="42.9" fill="url(#g1)" stroke="#9c9c9c" stroke-width="1.6"/><text class="bx" font-size="31" text-anchor="middle" transform="translate(832.0,2556.1) scale(1.2,1)">1</text>
<rect x="891.4" y="2523.3" width="51.5" height="42.9" fill="url(#g8)" stroke="#9c9c9c" stroke-width="1.6"/><text class="bx" font-size="31" text-anchor="middle" transform="translate(918.6,2556.1) scale(1.2,1)">8</text>
<rect x="1069.3" y="2589.2" width="51" height="42.9" fill="url(#g1)" stroke="#9c9c9c" stroke-width="1.6"/><text class="bx" font-size="31" text-anchor="middle" transform="translate(1096.3,2621.9) scale(1.2,1)">1</text>
<rect x="1163.2" y="2589.2" width="37.5" height="42.9" fill="url(#g3)" stroke="#9c9c9c" stroke-width="1.6"/><text class="bx" font-size="31" text-anchor="middle" transform="translate(1183.5,2621.9) scale(1.2,1)">3</text>
<rect x="973.9" y="2655.0" width="51" height="42.9" fill="url(#g1)" stroke="#9c9c9c" stroke-width="1.6"/><text class="bx" font-size="31" text-anchor="middle" transform="translate(1000.9,2687.8) scale(1.2,1)">1</text>
<rect x="1069.3" y="2655.0" width="37.5" height="42.9" fill="url(#g3)" stroke="#9c9c9c" stroke-width="1.6"/><text class="bx" font-size="31" text-anchor="middle" transform="translate(1089.5,2687.8) scale(1.2,1)">3</text>
<rect x="974.6" y="2720.9" width="51" height="42.9" fill="url(#g1)" stroke="#9c9c9c" stroke-width="1.6"/><text class="bx" font-size="31" text-anchor="middle" transform="translate(1001.6,2753.7) scale(1.2,1)">1</text>
<rect x="1069.3" y="2720.9" width="37.5" height="42.9" fill="url(#g3)" stroke="#9c9c9c" stroke-width="1.6"/><text class="bx" font-size="31" text-anchor="middle" transform="translate(1089.5,2753.7) scale(1.2,1)">3</text>
<rect x="974.6" y="2786.8" width="51" height="42.9" fill="url(#g1)" stroke="#9c9c9c" stroke-width="1.6"/><text class="bx" font-size="31" text-anchor="middle" transform="translate(1001.6,2819.5) scale(1.2,1)">1</text>
<rect x="1069.3" y="2786.8" width="37.5" height="42.9" fill="url(#g3)" stroke="#9c9c9c" stroke-width="1.6"/><text class="bx" font-size="31" text-anchor="middle" transform="translate(1089.5,2819.5) scale(1.2,1)">3</text>
<rect x="976.4" y="2852.6" width="51" height="42.9" fill="url(#g1)" stroke="#9c9c9c" stroke-width="1.6"/><text class="bx" font-size="31" text-anchor="middle" transform="translate(1003.4,2885.3) scale(1.2,1)">1</text>
<rect x="1071.1" y="2852.6" width="37.5" height="42.9" fill="url(#g3)" stroke="#9c9c9c" stroke-width="1.6"/><text class="bx" font-size="31" text-anchor="middle" transform="translate(1091.3,2885.3) scale(1.2,1)">3</text>
<rect x="821.8" y="2918.4" width="51" height="42.9" fill="url(#g1)" stroke="#9c9c9c" stroke-width="1.6"/><text class="bx" font-size="31" text-anchor="middle" transform="translate(848.8,2951.2) scale(1.2,1)">1</text>
<rect x="901.4" y="2918.4" width="37.5" height="42.9" fill="url(#g3)" stroke="#9c9c9c" stroke-width="1.6"/><text class="bx" font-size="31" text-anchor="middle" transform="translate(921.6,2951.2) scale(1.2,1)">3</text>
<rect x="843.2" y="2984.3" width="51" height="42.9" fill="url(#g1)" stroke="#9c9c9c" stroke-width="1.6"/><text class="bx" font-size="31" text-anchor="middle" transform="translate(870.2,3017.0) scale(1.2,1)">1</text>
<rect x="923.6" y="2984.3" width="37.5" height="42.9" fill="url(#g3)" stroke="#9c9c9c" stroke-width="1.6"/><text class="bx" font-size="31" text-anchor="middle" transform="translate(943.9,3017.0) scale(1.2,1)">3</text>
<rect x="833.6" y="3050.1" width="51" height="42.9" fill="url(#g1)" stroke="#9c9c9c" stroke-width="1.6"/><text class="bx" font-size="31" text-anchor="middle" transform="translate(860.6,3082.9) scale(1.2,1)">1</text>
<rect x="913.9" y="3050.1" width="37.5" height="42.9" fill="url(#g3)" stroke="#9c9c9c" stroke-width="1.6"/><text class="bx" font-size="31" text-anchor="middle" transform="translate(934.1,3082.9) scale(1.2,1)">3</text>
<rect x="927.1" y="3116.0" width="89" height="42.9" fill="url(#g9)" stroke="#9c9c9c" stroke-width="1.6"/><text class="bx" font-size="31" text-anchor="middle" transform="translate(973.1,3148.8) scale(1.2,1)">9</text>
<rect x="1036.4" y="3116.0" width="90.5" height="42.9" fill="url(#g7)" stroke="#9c9c9c" stroke-width="1.6"/><text class="bx" font-size="31" text-anchor="middle" transform="translate(1083.2,3148.8) scale(1.2,1)">7</text>
<rect x="1186.2" y="3116.0" width="89.5" height="42.9" fill="url(#g6)" stroke="#9c9c9c" stroke-width="1.6"/><text class="bx" font-size="31" text-anchor="middle" transform="translate(1232.5,3148.8) scale(1.2,1)">6</text>
<rect x="1365.1" y="3116.0" width="51" height="42.9" fill="url(#g1)" stroke="#9c9c9c" stroke-width="1.6"/><text class="bx" font-size="31" text-anchor="middle" transform="translate(1392.1,3148.8) scale(1.2,1)">1</text>
<rect x="1450.0" y="3116.0" width="37.5" height="42.9" fill="url(#g3)" stroke="#9c9c9c" stroke-width="1.6"/><text class="bx" font-size="31" text-anchor="middle" transform="translate(1470.2,3148.8) scale(1.2,1)">3</text>
<rect x="845.4" y="3181.8" width="53" height="42.9" fill="url(#g2)" stroke="#9c9c9c" stroke-width="1.6"/><text class="bx" font-size="31" text-anchor="middle" transform="translate(873.4,3214.6) scale(1.2,1)">2</text>
<rect x="913.9" y="3181.8" width="89" height="42.9" fill="url(#g9)" stroke="#9c9c9c" stroke-width="1.6"/><text class="bx" font-size="31" text-anchor="middle" transform="translate(959.9,3214.6) scale(1.2,1)">9</text>
<rect x="1022.9" y="3181.8" width="90.5" height="42.9" fill="url(#g7)" stroke="#9c9c9c" stroke-width="1.6"/><text class="bx" font-size="31" text-anchor="middle" transform="translate(1069.7,3214.6) scale(1.2,1)">7</text>
<rect x="1171.8" y="3181.8" width="89.5" height="42.9" fill="url(#g6)" stroke="#9c9c9c" stroke-width="1.6"/><text class="bx" font-size="31" text-anchor="middle" transform="translate(1218.0,3214.6) scale(1.2,1)">6</text>
<rect x="1351.2" y="3181.8" width="51" height="42.9" fill="url(#g1)" stroke="#9c9c9c" stroke-width="1.6"/><text class="bx" font-size="31" text-anchor="middle" transform="translate(1378.2,3214.6) scale(1.2,1)">1</text>
<rect x="1436.5" y="3181.8" width="37.5" height="42.9" fill="url(#g3)" stroke="#9c9c9c" stroke-width="1.6"/><text class="bx" font-size="31" text-anchor="middle" transform="translate(1456.8,3214.6) scale(1.2,1)">3</text>
<rect x="913.9" y="3247.7" width="89" height="42.9" fill="url(#g9)" stroke="#9c9c9c" stroke-width="1.6"/><text class="bx" font-size="31" text-anchor="middle" transform="translate(959.9,3280.4) scale(1.2,1)">9</text>
<rect x="1022.9" y="3247.7" width="90.5" height="42.9" fill="url(#g7)" stroke="#9c9c9c" stroke-width="1.6"/><text class="bx" font-size="31" text-anchor="middle" transform="translate(1069.7,3280.4) scale(1.2,1)">7</text>
<rect x="1171.8" y="3247.7" width="89.5" height="42.9" fill="url(#g6)" stroke="#9c9c9c" stroke-width="1.6"/><text class="bx" font-size="31" text-anchor="middle" transform="translate(1218.0,3280.4) scale(1.2,1)">6</text>
<rect x="1343.9" y="3247.7" width="51" height="42.9" fill="url(#g1)" stroke="#9c9c9c" stroke-width="1.6"/><text class="bx" font-size="31" text-anchor="middle" transform="translate(1370.9,3280.4) scale(1.2,1)">1</text>
<rect x="1429.6" y="3247.7" width="37.5" height="42.9" fill="url(#g3)" stroke="#9c9c9c" stroke-width="1.6"/><text class="bx" font-size="31" text-anchor="middle" transform="translate(1449.8,3280.4) scale(1.2,1)">3</text>
<rect x="903.9" y="3313.5" width="89" height="42.9" fill="url(#g9)" stroke="#9c9c9c" stroke-width="1.6"/><text class="bx" font-size="31" text-anchor="middle" transform="translate(949.9,3346.3) scale(1.2,1)">9</text>
<rect x="1014.6" y="3313.5" width="90.5" height="42.9" fill="url(#g7)" stroke="#9c9c9c" stroke-width="1.6"/><text class="bx" font-size="31" text-anchor="middle" transform="translate(1061.3,3346.3) scale(1.2,1)">7</text>
<rect x="1163.7" y="3313.5" width="89.5" height="42.9" fill="url(#g6)" stroke="#9c9c9c" stroke-width="1.6"/><text class="bx" font-size="31" text-anchor="middle" transform="translate(1210.0,3346.3) scale(1.2,1)">6</text>
<rect x="1347.1" y="3313.5" width="51" height="42.9" fill="url(#g1)" stroke="#9c9c9c" stroke-width="1.6"/><text class="bx" font-size="31" text-anchor="middle" transform="translate(1374.1,3346.3) scale(1.2,1)">1</text>
<rect x="1432.4" y="3313.5" width="37.5" height="42.9" fill="url(#g3)" stroke="#9c9c9c" stroke-width="1.6"/><text class="bx" font-size="31" text-anchor="middle" transform="translate(1452.7,3346.3) scale(1.2,1)">3</text>
<rect x="920.0" y="3379.4" width="89" height="42.9" fill="url(#g9)" stroke="#9c9c9c" stroke-width="1.6"/><text class="bx" font-size="31" text-anchor="middle" transform="translate(966.0,3412.1) scale(1.2,1)">9</text>
<rect x="1030.7" y="3379.4" width="90.5" height="42.9" fill="url(#g7)" stroke="#9c9c9c" stroke-width="1.6"/><text class="bx" font-size="31" text-anchor="middle" transform="translate(1077.5,3412.1) scale(1.2,1)">7</text>
<rect x="1178.9" y="3379.4" width="89.5" height="42.9" fill="url(#g6)" stroke="#9c9c9c" stroke-width="1.6"/><text class="bx" font-size="31" text-anchor="middle" transform="translate(1225.2,3412.1) scale(1.2,1)">6</text>
<rect x="1357.3" y="3379.4" width="51" height="42.9" fill="url(#g1)" stroke="#9c9c9c" stroke-width="1.6"/><text class="bx" font-size="31" text-anchor="middle" transform="translate(1384.3,3412.1) scale(1.2,1)">1</text>
<rect x="1441.8" y="3379.4" width="37.5" height="42.9" fill="url(#g3)" stroke="#9c9c9c" stroke-width="1.6"/><text class="bx" font-size="31" text-anchor="middle" transform="translate(1462.0,3412.1) scale(1.2,1)">3</text>
<rect x="906.8" y="3445.2" width="89" height="42.9" fill="url(#g9)" stroke="#9c9c9c" stroke-width="1.6"/><text class="bx" font-size="31" text-anchor="middle" transform="translate(952.8,3478.0) scale(1.2,1)">9</text>
<rect x="1018.6" y="3445.2" width="90.5" height="42.9" fill="url(#g7)" stroke="#9c9c9c" stroke-width="1.6"/><text class="bx" font-size="31" text-anchor="middle" transform="translate(1065.3,3478.0) scale(1.2,1)">7</text>
<rect x="1167.0" y="3445.2" width="89.5" height="42.9" fill="url(#g6)" stroke="#9c9c9c" stroke-width="1.6"/><text class="bx" font-size="31" text-anchor="middle" transform="translate(1213.2,3478.0) scale(1.2,1)">6</text>
<rect x="1347.1" y="3445.2" width="51" height="42.9" fill="url(#g1)" stroke="#9c9c9c" stroke-width="1.6"/><text class="bx" font-size="31" text-anchor="middle" transform="translate(1374.1,3478.0) scale(1.2,1)">1</text>
<rect x="1432.4" y="3445.2" width="37.5" height="42.9" fill="url(#g3)" stroke="#9c9c9c" stroke-width="1.6"/><text class="bx" font-size="31" text-anchor="middle" transform="translate(1452.7,3478.0) scale(1.2,1)">3</text>
<rect x="2033.5" y="85.8" width="158.5" height="57" fill="url(#g1)" stroke="#a8a8a8" stroke-width="2"/><text class="lg" font-size="49.0" transform="translate(2206.8,122.8) scale(1.2,1)">Motif 1</text>
<rect x="2033.5" y="155.6" width="158.5" height="57" fill="url(#g3)" stroke="#a8a8a8" stroke-width="2"/><text class="lg" font-size="49.0" transform="translate(2206.8,192.6) scale(1.2,1)">Motif 3</text>
<rect x="2033.5" y="225.4" width="158.5" height="57" fill="url(#g4)" stroke="#a8a8a8" stroke-width="2"/><text class="lg" font-size="49.0" transform="translate(2206.8,262.4) scale(1.2,1)">Motif 4</text>
<rect x="2033.5" y="295.2" width="158.5" height="57" fill="url(#g10)" stroke="#a8a8a8" stroke-width="2"/><text class="lg" font-size="49.0" transform="translate(2206.8,332.2) scale(1.2,1)">Motif 10</text>
<rect x="2033.5" y="365.0" width="158.5" height="57" fill="url(#g5)" stroke="#a8a8a8" stroke-width="2"/><text class="lg" font-size="49.0" transform="translate(2206.8,402.0) scale(1.2,1)">Motif 5</text>
<rect x="2033.5" y="434.8" width="158.5" height="57" fill="url(#g2)" stroke="#a8a8a8" stroke-width="2"/><text class="lg" font-size="49.0" transform="translate(2206.8,471.8) scale(1.2,1)">Motif 2</text>
<rect x="2033.5" y="504.6" width="158.5" height="57" fill="url(#g8)" stroke="#a8a8a8" stroke-width="2"/><text class="lg" font-size="49.0" transform="translate(2206.8,541.6) scale(1.2,1)">Motif 8</text>
<rect x="2033.5" y="574.4" width="158.5" height="57" fill="url(#g9)" stroke="#a8a8a8" stroke-width="2"/><text class="lg" font-size="49.0" transform="translate(2206.8,611.4) scale(1.2,1)">Motif 9</text>
<rect x="2033.5" y="644.2" width="158.5" height="57" fill="url(#g7)" stroke="#a8a8a8" stroke-width="2"/><text class="lg" font-size="49.0" transform="translate(2206.8,681.2) scale(1.2,1)">Motif 7</text>
<rect x="2033.5" y="714.0" width="158.5" height="57" fill="url(#g6)" stroke="#a8a8a8" stroke-width="2"/><text class="lg" font-size="49.0" transform="translate(2206.8,751.0) scale(1.2,1)">Motif 6</text>
<path d="M686.7 3532.5H1774.2M686.7 3532.5V3553.5M868.0 3532.5V3553.5M1049.2 3532.5V3553.5M1230.5 3532.5V3553.5M1411.7 3532.5V3553.5M1593.0 3532.5V3553.5M1774.2 3532.5V3553.5" stroke="#8a8a8a" stroke-width="4" fill="none"/>
<text class="ax" font-size="63.5" text-anchor="middle" transform="translate(689.7,3611.5) scale(1.16,1)">0</text>
<text class="ax" font-size="63.5" text-anchor="middle" transform="translate(871.0,3611.5) scale(1.16,1)">100</text>
<text class="ax" font-size="63.5" text-anchor="middle" transform="translate(1052.2,3611.5) scale(1.16,1)">200</text>
<text class="ax" font-size="63.5" text-anchor="middle" transform="translate(1233.5,3611.5) scale(1.16,1)">300</text>
<text class="ax" font-size="63.5" text-anchor="middle" transform="translate(1414.7,3611.5) scale(1.16,1)">400</text>
<text class="ax" font-size="63.5" text-anchor="middle" transform="translate(1596.0,3611.5) scale(1.16,1)">500</text>
<text class="ax" font-size="63.5" text-anchor="middle" transform="translate(1777.2,3611.5) scale(1.16,1)">600</text>
<text class="ax" font-size="60.5" transform="translate(624,3546) scale(1.18,1)">5'</text>
<text class="ax" font-size="60.5" transform="translate(1789,3546) scale(1.2,1)">3'</text>
</g>
</svg>
</body></html>
